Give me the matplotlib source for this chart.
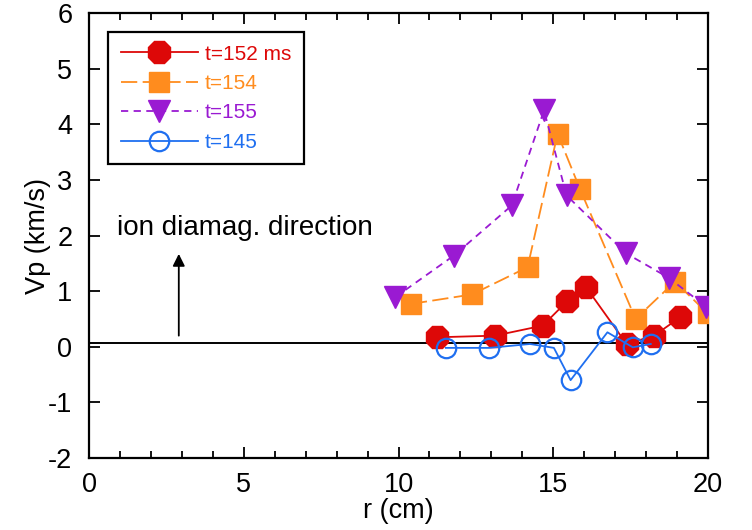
import matplotlib.pyplot as plt
from matplotlib.ticker import MultipleLocator

plt.rcParams['font.family'] = ['Liberation Sans', 'DejaVu Sans']
plt.rcParams['axes.unicode_minus'] = False

# t=152 ms (red)
r_152 = [11.23, 13.12, 14.66, 15.45, 16.06, 17.37, 18.26, 19.10]
vp_152 = [0.17, 0.20, 0.38, 0.82, 1.07, 0.05, 0.20, 0.53]

# t=154 (orange)
r_154 = [10.40, 12.37, 14.17, 15.14, 15.86, 17.66, 18.93, 19.99]
vp_154 = [0.77, 0.94, 1.43, 3.83, 2.84, 0.50, 1.17, 0.60]

# t=155 (purple)
r_155 = [9.89, 11.79, 13.66, 14.70, 15.43, 17.35, 18.73, 19.94]
vp_155 = [0.89, 1.64, 2.54, 4.25, 2.72, 1.68, 1.24, 0.72]

# t=145 (blue, open)
r_145 = [11.53, 12.93, 14.25, 15.02, 15.56, 16.75, 17.57, 18.15]
vp_145 = [-0.02, -0.02, 0.05, -0.02, -0.60, 0.26, -0.01, 0.05]

zero_level = 0.07

red = '#dd0808'
orange = '#ff8c1e'
purple = '#9a1ad2'
blue = '#1f6ff0'

fig = plt.figure(figsize=(7.52, 5.30), dpi=100)
ax = fig.add_axes([0.1184, 0.1358, 0.8231, 0.8397])

ax.axhline(zero_level, color='black', lw=1.4, zorder=1)

ax.plot(r_152, vp_152, color=red, lw=1.3, marker='8', ms=17, mfc=red, mec=red,
        label='t=152 ms', zorder=4)
ax.plot(r_154, vp_154, color=orange, lw=1.3, ls=(0, (9, 3)), marker='s', ms=14.5,
        mfc=orange, mec=orange, label='t=154', zorder=3)
ax.plot(r_155, vp_155, color=purple, lw=1.3, ls=(0, (4, 3)), marker='v', ms=15.5,
        mfc=purple, mec=purple, label='t=155', zorder=3)
ax.plot(r_145, vp_145, color=blue, lw=1.3, marker='o', ms=14, mfc='none',
        mec=blue, mew=1.6, label='t=145', zorder=5)

ax.annotate('', xy=(2.9, 1.72), xytext=(2.9, 0.15),
            arrowprops=dict(arrowstyle='-|>', color='black', lw=1.3,
                            mutation_scale=18))
ax.text(0.9, 2.14, 'ion diamag. direction', fontsize=20, va='center', ha='left')

ax.set_xlim(0, 20)
ax.set_ylim(-2, 6)
ax.xaxis.set_major_locator(MultipleLocator(5))
ax.xaxis.set_minor_locator(MultipleLocator(1))
ax.yaxis.set_major_locator(MultipleLocator(1))
ax.tick_params(which='both', direction='in', top=True, right=True, width=1.3)
ax.tick_params(which='major', length=8, labelsize=19.5)
ax.tick_params(which='minor', length=5)
ax.tick_params(axis='x', which='major', pad=10)
ax.tick_params(axis='y', which='major', pad=12)
for s in ax.spines.values():
    s.set_linewidth(1.6)

ax.set_xlabel('r (cm)', fontsize=19.5, labelpad=0)
ax.set_ylabel('Vp (km/s)', fontsize=19.5, labelpad=-2)

leg = ax.legend(loc='upper left', bbox_to_anchor=(0.0307, 0.957), fontsize=15,
                frameon=True, fancybox=False, edgecolor='black', framealpha=1,
                handlelength=3.7, borderpad=0.6, labelspacing=0.5,
                handletextpad=0.35, borderaxespad=0, markerscale=1.0)
leg.get_frame().set_linewidth(1.6)
for txt, c in zip(leg.get_texts(), [red, orange, purple, blue]):
    txt.set_color(c)

fig.savefig('out.png', dpi=100)
